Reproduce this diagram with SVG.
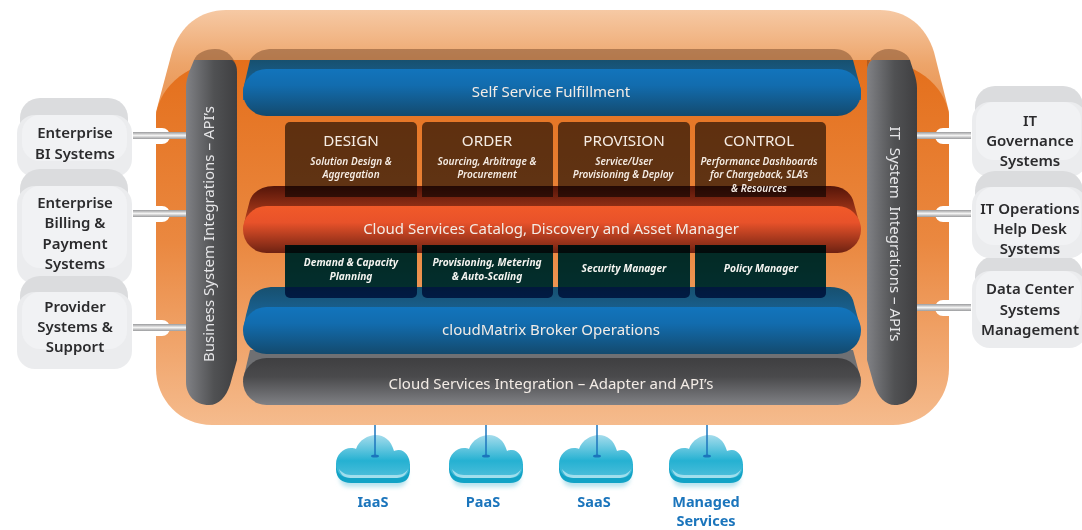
<svg xmlns="http://www.w3.org/2000/svg" width="1082" height="530" viewBox="0 0 1082 530">
<style>
text{font-family:"Noto Sans","Open Sans","Liberation Sans",sans-serif;text-anchor:middle}
.n{font-size:15px;font-weight:600;fill:#2b2b2d}
.b{font-size:15px;fill:#f3ece6}
.h{font-size:15.2px;fill:#f5ece4}
.s{font-size:10px;font-style:italic;font-weight:600;fill:#f5ece4}
.d{font-size:10.2px;font-style:italic;font-weight:700;fill:#f4f4f0}
.v{font-size:15px;fill:#e6e6e8}
.c{font-size:14.5px;font-weight:700;fill:#1b75bc}
.m{mix-blend-mode:multiply}
.nb{fill:#dbdcde}.no{fill:#ebecee}.ni{fill:#f1f2f4}
.dome{fill:#7a4a2a;fill-opacity:.5}
</style>
<defs>
<linearGradient id="gBack" x1="0" y1="0" x2="0" y2="1"><stop offset="0" stop-color="#f6c9a4"/><stop offset=".5" stop-color="#eda469"/><stop offset="1" stop-color="#e88f4b"/></linearGradient>
<linearGradient id="gFront" x1="0" y1="0" x2="0" y2="1"><stop offset="0" stop-color="#e46f1b"/><stop offset=".5" stop-color="#ea8840"/><stop offset="1" stop-color="#f5bb8d"/></linearGradient>
<linearGradient id="gPil" x1="0" y1="0" x2="1" y2="0"><stop offset="0" stop-color="#808185"/><stop offset=".55" stop-color="#505153"/><stop offset="1" stop-color="#3f3f41"/></linearGradient>
<linearGradient id="gBlue" x1="0" y1="0" x2="0" y2="1"><stop offset="0" stop-color="#1274bc"/><stop offset=".35" stop-color="#126cae"/><stop offset="1" stop-color="#134a6e"/></linearGradient>
<linearGradient id="gBlueB" x1="0" y1="0" x2="0" y2="1"><stop offset="0" stop-color="#17506f"/><stop offset="1" stop-color="#1a6ca8"/></linearGradient>
<linearGradient id="gRed" x1="0" y1="0" x2="0" y2="1"><stop offset="0" stop-color="#f15a29"/><stop offset=".35" stop-color="#e8522a"/><stop offset="1" stop-color="#6e2212"/></linearGradient>
<linearGradient id="gRedB" x1="0" y1="0" x2="0" y2="1"><stop offset="0" stop-color="#541509"/><stop offset="1" stop-color="#d24a22"/></linearGradient>
<linearGradient id="gGray" x1="0" y1="0" x2="0" y2="1"><stop offset="0" stop-color="#3f3f41"/><stop offset=".4" stop-color="#4a4a4c"/><stop offset="1" stop-color="#808185"/></linearGradient>
<linearGradient id="gCloud" x1="0" y1="0" x2="0" y2="1"><stop offset="0" stop-color="#a5dcec"/><stop offset=".6" stop-color="#25b1d2"/><stop offset="1" stop-color="#4fbfdb"/></linearGradient>
<linearGradient id="gLine" x1="0" y1="0" x2="0" y2="1"><stop offset="0" stop-color="#9a9b9d"/><stop offset=".5" stop-color="#f2f2f2"/><stop offset="1" stop-color="#9a9b9d"/></linearGradient>
<filter id="soft" x="-20%" y="-20%" width="140%" height="150%"><feGaussianBlur stdDeviation="2"/></filter>
<g id="cloud">
<path d="M-33 32 C-36 50 -28 50 -20 50 H24 C34 50 36 42 33 32Z" fill="#b9e3ee" filter="url(#soft)"/>
<path d="M-37 27 V32 C-37 41 -31 46 -22 46 H24 C33 46 37 41 37 32 V27Z" fill="#12a3c6"/>
<path d="M-22 41 C-32 41 -37 35 -37 27 C-37 18 -30 11 -22 11 C-20 11 -18 11 -17 12 C-14 3 -5 -2 3 -2 C11 -2 18 3 21 14 C23 13 25 13 26 13 C32 13 37 20 37 28 C37 35 33 41 24 41Z" fill="url(#gCloud)"/>
<path d="M-34 32 C-30 37 -26 38 -20 38 H22 C28 38 32 37 35 32 C33 39 28 41 22 41 H-20 C-28 41 -32 39 -34 32Z" fill="#c5ecf5" fill-opacity=".7"/>
</g>
</defs>
<rect width="1082" height="530" fill="#fff"/>

<g id="platform">
<path d="M156 112 L172 52 C180 26 200 10 226 10 H880 C906 10 926 26 934 52 L949 112 V120 H156Z" fill="url(#gBack)"/>
<path d="M156 115 C160 85 190 60 232 60 H872 C915 60 945 85 949 115 V368 C949 400 925 425 893 425 H212 C180 425 156 400 156 368Z" fill="url(#gFront)"/>
<path d="M156 128 h6 a8 8 0 0 1 0 16 h-6Z M156 206 h6 a8 8 0 0 1 0 16 h-6Z M156 320 h6 a8 8 0 0 1 0 16 h-6Z M949 128 h-6 a8 8 0 0 0 0 16 h6Z M949 206 h-6 a8 8 0 0 0 0 16 h6Z M949 300 h-6 a8 8 0 0 0 0 16 h6Z" fill="#fff"/>
</g>

<g id="connectors">
<rect x="133" y="132" width="54" height="7" fill="url(#gLine)"/>
<rect x="133" y="210" width="54" height="7" fill="url(#gLine)"/>
<rect x="133" y="324" width="54" height="7" fill="url(#gLine)"/>
<rect x="917" y="132" width="54" height="7" fill="url(#gLine)"/>
<rect x="917" y="210" width="54" height="7" fill="url(#gLine)"/>
<rect x="917" y="304" width="54" height="7" fill="url(#gLine)"/>
</g>

<g id="bars">
<g id="bar-self-service">
<path d="M250 60 C254 53 262 49 272 49 H834 C844 49 850 53 853 60Z" class="dome"/>
<path d="M250 60 H853 L861 90 V100 H243 V90Z" fill="url(#gBlueB)"/>
<rect x="243" y="69" width="618" height="47" rx="23.5" fill="url(#gBlue)"/>
<text class="b" x="551" y="97">Self Service Fulfillment</text>
</g>
<g id="bar-catalog">
<path d="M250 200 C253 192 262 186 274 186 H830 C842 186 850 192 853 200 L861 229 H243 L246 215Z" fill="url(#gRedB)"/>
<rect x="243" y="206" width="618" height="47" rx="23.5" fill="url(#gRed)"/>
</g>
<g id="bar-integration">
<path d="M250 350 L243 380 H861 L853 350Z" fill="#6f7073"/>
<rect x="243" y="358" width="618" height="47" rx="23.5" fill="url(#gGray)"/>
<text class="b" x="551" y="389">Cloud Services Integration – Adapter and API’s</text>
</g>
<g id="bar-broker">
<path d="M250 300 C253 292 262 287 274 287 H830 C842 287 850 292 853 300 L861 330 H243 L246 315Z" fill="url(#gBlueB)"/>
<rect x="243" y="307" width="618" height="47" rx="23.5" fill="url(#gBlue)"/>
<text class="b" x="551" y="335">cloudMatrix Broker Operations</text>
</g>
</g>

<g id="modules-top">
<g id="design"><path class="m" d="M285 197 V127 a5 5 0 0 1 5 -5 H412 a5 5 0 0 1 5 5 V197Z" fill="#69655c"/>
<text class="h" x="351" y="146">DESIGN</text><text class="s" x="351" y="165">Solution Design &amp;</text><text class="s" x="351" y="178">Aggregation</text></g>
<g id="order"><path class="m" d="M422 197 V127 a5 5 0 0 1 5 -5 H548 a5 5 0 0 1 5 5 V197Z" fill="#69655c"/>
<text class="h" x="487" y="146">ORDER</text><text class="s" x="487" y="165">Sourcing, Arbitrage &amp;</text><text class="s" x="487" y="178">Procurement</text></g>
<g id="provision"><path class="m" d="M558 197 V127 a5 5 0 0 1 5 -5 H685 a5 5 0 0 1 5 5 V197Z" fill="#69655c"/>
<text class="h" x="624" y="146">PROVISION</text><text class="s" x="624" y="165">Service/User</text><text class="s" x="623" y="178">Provisioning &amp; Deploy</text></g>
<g id="control"><path class="m" d="M695 197 V127 a5 5 0 0 1 5 -5 H821 a5 5 0 0 1 5 5 V197Z" fill="#69655c"/>
<text class="h" x="759" y="146">CONTROL</text><text class="s" x="759" y="165">Performance Dashboards</text><text class="s" x="759" y="178">for Chargeback, SLA’s</text><text class="s" x="759" y="192">&amp; Resources</text></g>
</g>

<text class="b" x="551" y="234">Cloud Services Catalog, Discovery and Asset Manager</text>

<g id="modules-bottom">
<g id="demand"><path class="m" d="M285 245 V293 a5 5 0 0 0 5 5 H412 a5 5 0 0 0 5 -5 V245Z" fill="#034e8a"/>
<text class="d" x="351" y="266">Demand &amp; Capacity</text><text class="d" x="351" y="280">Planning</text></g>
<g id="metering"><path class="m" d="M422 245 V293 a5 5 0 0 0 5 5 H548 a5 5 0 0 0 5 -5 V245Z" fill="#034e8a"/>
<text class="d" x="487" y="266">Provisioning, Metering</text><text class="d" x="487" y="280">&amp; Auto-Scaling</text></g>
<g id="security"><path class="m" d="M558 245 V293 a5 5 0 0 0 5 5 H685 a5 5 0 0 0 5 -5 V245Z" fill="#034e8a"/>
<text class="d" x="624" y="272">Security Manager</text></g>
<g id="policy"><path class="m" d="M695 245 V293 a5 5 0 0 0 5 5 H821 a5 5 0 0 0 5 -5 V245Z" fill="#034e8a"/>
<text class="d" x="761" y="272">Policy Manager</text></g>
</g>

<g id="pillar-left">
<path d="M194 60 C197 53 205 49 215 49 C227 49 235 57 237 70 H194Z" class="dome"/>
<path d="M194 60 H232 C235 62 237 66 237 72 V360 L230 385 C226 397 219 405 209 405 C195 405 186 395 186 382 V88 C186 78 190 70 194 60Z" fill="url(#gPil)"/>
<text class="v" transform="translate(214,234) rotate(-90)">Business System  Integrations – API’s</text>
</g>
<g id="pillar-right">
<path d="M867 70 C869 57 877 49 889 49 C899 49 907 53 910 60H867Z" class="dome"/>
<path d="M872 60 H910 C912 68 917 78 917 88 V382 C917 395 908 405 895 405 C885 405 878 397 874 385 L867 360 V72 C867 66 869 62 872 60Z" fill="url(#gPil)"/>
<text class="v" xml:space="preserve" transform="translate(890,234) rotate(90)">IT  System  Integrations – API’s</text>
</g>

<g id="node-bi"><rect class="nb" x="20" y="98" width="108" height="50" rx="20"/><rect class="no" x="17" y="115" width="115" height="62" rx="18"/><rect class="ni" x="22" y="115" width="105" height="46" rx="18"/>
<text class="n" x="75" y="138">Enterprise</text><text class="n" x="75" y="159">BI Systems</text></g>
<g id="node-billing"><rect class="nb" x="20" y="169" width="108" height="50" rx="20"/><rect class="no" x="17" y="186" width="115" height="98" rx="18"/><rect class="ni" x="22" y="186" width="105" height="82" rx="18"/>
<text class="n" x="75" y="208">Enterprise</text><text class="n" x="75" y="228">Billing &amp;</text><text class="n" x="75" y="249">Payment</text><text class="n" x="75" y="269">Systems</text></g>
<g id="node-provider"><rect class="nb" x="20" y="276" width="108" height="50" rx="20"/><rect class="no" x="17" y="292" width="115" height="77" rx="18"/><rect class="ni" x="22" y="292" width="105" height="57" rx="18"/>
<text class="n" x="75" y="312">Provider</text><text class="n" x="75" y="332">Systems &amp;</text><text class="n" x="75" y="352">Support</text></g>

<g id="node-governance"><rect class="nb" x="975" y="86" width="108" height="50" rx="20"/><rect class="no" x="972" y="102" width="115" height="75" rx="18"/><rect class="ni" x="976" y="102" width="105" height="58" rx="18"/>
<text class="n" x="1030" y="126">IT</text><text class="n" x="1030" y="146">Governance</text><text class="n" x="1030" y="166">Systems</text></g>
<g id="node-datacenter"><rect class="nb" x="975" y="256" width="108" height="50" rx="20"/><rect class="no" x="972" y="271" width="115" height="77" rx="18"/><rect class="ni" x="976" y="271" width="105" height="58" rx="18"/>
<text class="n" x="1030" y="294">Data Center</text><text class="n" x="1030" y="315">Systems</text><text class="n" x="1030" y="335">Management</text></g>
<g id="node-operations"><rect class="nb" x="975" y="171" width="108" height="50" rx="20"/><rect class="no" x="972" y="187" width="115" height="71" rx="18"/><rect class="ni" x="976" y="187" width="105" height="58" rx="18"/>
<text class="n" x="1030" y="214">IT Operations</text><text class="n" x="1030" y="234">Help Desk</text><text class="n" x="1030" y="254">Systems</text></g>

<g id="cloud-iaas"><use href="#cloud" x="373" y="437"/><path d="M375 425 V456" stroke="#1b75bc" stroke-width="1.5"/><ellipse cx="375" cy="456" rx="4" ry="1.6" fill="#1b75bc"/><text class="c" x="373" y="507">IaaS</text></g>
<g id="cloud-paas"><use href="#cloud" x="486" y="437"/><path d="M486 425 V456" stroke="#1b75bc" stroke-width="1.5"/><ellipse cx="486" cy="456" rx="4" ry="1.6" fill="#1b75bc"/><text class="c" x="483" y="507">PaaS</text></g>
<g id="cloud-saas"><use href="#cloud" x="596" y="437"/><path d="M597 425 V456" stroke="#1b75bc" stroke-width="1.5"/><ellipse cx="597" cy="456" rx="4" ry="1.6" fill="#1b75bc"/><text class="c" x="594" y="507">SaaS</text></g>
<g id="cloud-managed"><use href="#cloud" x="706" y="437"/><path d="M707 425 V456" stroke="#1b75bc" stroke-width="1.5"/><ellipse cx="707" cy="456" rx="4" ry="1.6" fill="#1b75bc"/><text class="c" x="706" y="507">Managed</text><text class="c" x="706" y="526">Services</text></g>
</svg>
